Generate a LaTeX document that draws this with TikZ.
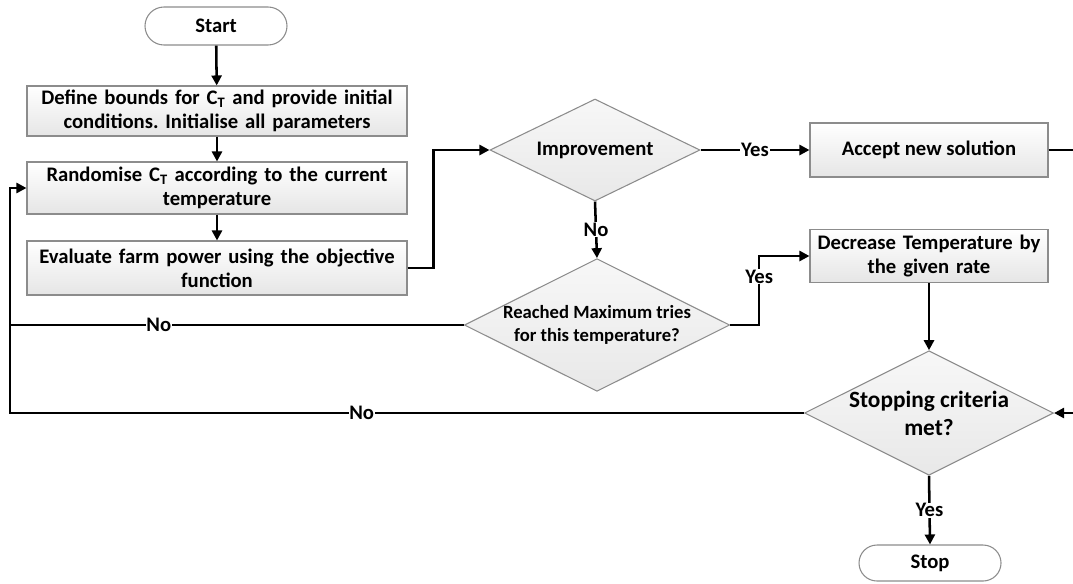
\documentclass[tikz,border=0pt]{standalone}
\usepackage{fontspec}
\setmainfont{Carlito}
\usetikzlibrary{shapes.geometric,shapes.misc,arrows.meta}
\frenchspacing
\def\pxu{0.75pt}
\definecolor{bordergray}{HTML}{8C8C8C}
\tikzset{
  base/.style={draw=bordergray, line width=0.8pt, font=\fontsize{15.5}{18}\selectfont\bfseries, align=center, inner sep=0pt},
  procbox/.style={base, rectangle, top color=white, bottom color=black!10},
  decision/.style={base, diamond, aspect=2, top color=black!3, bottom color=black!9},
  terminal/.style={base, rounded rectangle, fill=white},
  conn/.style={line width=1.9pt, black},
  arr/.style={conn, -{Triangle[length=7.5pt,width=7.5pt]}},
  lbl/.style={fill=white, inner sep=0.5pt, font=\fontsize{15.5}{18}\selectfont\bfseries}
}
\begin{document}
\begin{tikzpicture}[x=0.75pt,y=-0.75pt]
\useasboundingbox (0,0) rectangle (1073,583);
% nodes
\node[terminal, minimum width=142*\pxu, minimum height=38*\pxu] (start) at (216,26) {Start};
\node[procbox, minimum width=380*\pxu, minimum height=50*\pxu, text width=374*\pxu] (b1) at (217,111) {Define bounds for C\textsubscript{T} and provide initial\\conditions. Initialise all parameters};
\node[procbox, minimum width=380*\pxu, minimum height=52*\pxu, text width=374*\pxu] (b2) at (217,188) {Randomise C\textsubscript{T} according to the current\\temperature};
\node[procbox, minimum width=380*\pxu, minimum height=54*\pxu, text width=374*\pxu] (b3) at (217,268) {Evaluate farm power using the objective\\function};
\node[decision, minimum width=210*\pxu, minimum height=102*\pxu] (imp) at (595,150) {Improvement};
\node[procbox, minimum width=238*\pxu, minimum height=54*\pxu] (acc) at (929,150) {Accept new solution};
\node[decision, minimum width=260*\pxu, minimum height=125*\pxu, font=\fontsize{14}{17}\selectfont\bfseries] (reach) at (597,325) {Reached Maximum tries\\for this temperature?};
\node[procbox, minimum width=238*\pxu, minimum height=53*\pxu, text width=234*\pxu] (dec) at (929,256) {Decrease Temperature by\\the given rate};
\node[decision, minimum width=238*\pxu, minimum height=124*\pxu, font=\fontsize{17.5}{21}\selectfont\bfseries] (stp) at (929,413) {Stopping criteria\\met?};
\node[terminal, minimum width=142*\pxu, minimum height=36*\pxu] (stop) at (930,563) {Stop};
% helper coordinates
\coordinate (lp) at (10,0);
\coordinate (rp) at (1085,0);
% connectors
\draw[arr] (start) -- (b1);
\draw[arr] (b1) -- (b2);
\draw[arr] (b2) -- (b3);
\draw[arr] (b3.east) -- ++(26,0) |- (imp.west);
\draw[arr] (imp.east) -- node[lbl]{Yes} (acc.west);
\draw[arr] (imp.south) -- node[lbl]{No} (reach.north);
\draw[arr] (reach.east) -- ++(29,0) coordinate (c1) -- node[lbl, pos=0.7]{Yes} (c1 |- dec.west) -- (dec.west);
\draw[conn] (reach.west) -- node[lbl, pos=0.672]{No} (reach.west -| lp);
\draw[arr] (stp.west) -- node[lbl, pos=0.557]{No} (stp.west -| lp) |- (b2.west);
\draw[arr] (acc.east) -- (acc.east -| rp) |- (stp.east);
\draw[arr] (dec.south) -- (stp.north);
\draw[arr] (stp.south) -- node[lbl]{Yes} (stop.north);
\end{tikzpicture}
\end{document}
